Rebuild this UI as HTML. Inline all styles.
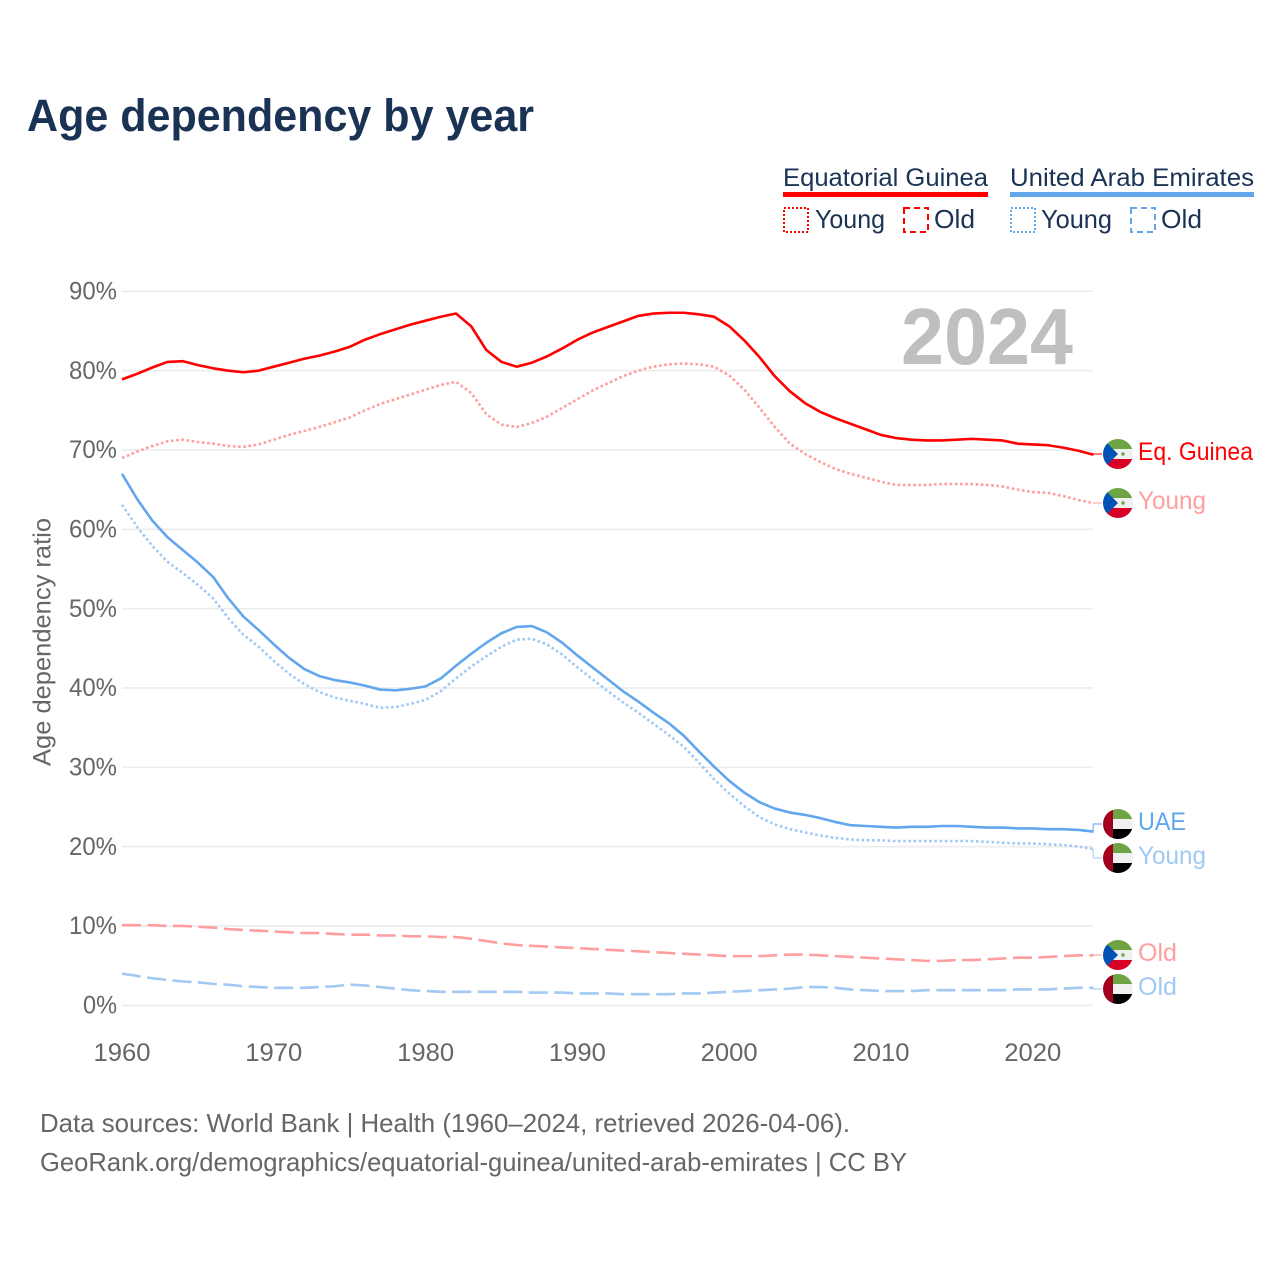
<!DOCTYPE html>
<html lang="en">
<head>
<meta charset="utf-8">
<title>Age dependency by year</title>
<style>
html,body{margin:0;padding:0;background:#fff;width:1280px;height:1280px;overflow:hidden}
svg{display:block}
text{font-family:"Liberation Sans",Arial,sans-serif}
</style>
</head>
<body>
<svg id="chart" xmlns="http://www.w3.org/2000/svg" width="1280" height="1280" viewBox="0 0 1280 1280">
  <defs>
    <clipPath id="flag-clip"><circle cx="0" cy="0" r="15"/></clipPath>
    <g id="flag-gq">
      <g clip-path="url(#flag-clip)">
        <rect x="-15" y="-15" width="30" height="30" fill="#f0f0f0"/>
        <rect x="-15" y="-15" width="30" height="10" fill="#6da544"/>
        <rect x="-15" y="5" width="30" height="10" fill="#d80027"/>
        <polygon points="-15,-15 -15,15 0,0" fill="#0052b4"/>
        <circle cx="5" cy="0" r="1.7" fill="#6da544"/>
      </g>
    </g>
    <g id="flag-ae">
      <g clip-path="url(#flag-clip)">
        <rect x="-15" y="-15" width="30" height="30" fill="#f0f0f0"/>
        <rect x="-15" y="-15" width="30" height="10" fill="#6da544"/>
        <rect x="-15" y="5" width="30" height="10" fill="#000"/>
        <rect x="-15" y="-15" width="10" height="30" fill="#a2001d"/>
      </g>
    </g>
  </defs>

  <text x="27" y="131" font-size="45" font-weight="700" fill="#1a3354" textLength="507" lengthAdjust="spacingAndGlyphs">Age dependency by year</text>

  <g>
    <g>
      <text x="783" y="186" font-size="25" fill="#1a3354" textLength="205" lengthAdjust="spacingAndGlyphs">Equatorial Guinea</text>
      <rect x="783" y="192" width="205" height="5" fill="#ff0000"/>
      <rect x="784" y="208" width="24" height="24" fill="none" stroke="#ff0000" stroke-width="2" stroke-dasharray="2 2"/>
      <text x="815" y="228" font-size="26" fill="#1a3354" textLength="70" lengthAdjust="spacingAndGlyphs">Young</text>
      <rect x="904" y="208" width="24" height="24" fill="none" stroke="#ff0000" stroke-width="2" stroke-dasharray="6 4"/>
      <text x="934" y="228" font-size="26" fill="#1a3354" textLength="41" lengthAdjust="spacingAndGlyphs">Old</text>
    </g>
    <g>
      <text x="1010" y="186" font-size="25" fill="#1a3354" textLength="244" lengthAdjust="spacingAndGlyphs">United Arab Emirates</text>
      <rect x="1010" y="192" width="244" height="5" fill="#62a6ed"/>
      <rect x="1011" y="208" width="24" height="24" fill="none" stroke="#62a6ed" stroke-width="2" stroke-dasharray="2 2"/>
      <text x="1041" y="228" font-size="26" fill="#1a3354" textLength="71" lengthAdjust="spacingAndGlyphs">Young</text>
      <rect x="1131" y="208" width="24" height="24" fill="none" stroke="#62a6ed" stroke-width="2" stroke-dasharray="6 4"/>
      <text x="1161" y="228" font-size="26" fill="#1a3354" textLength="41" lengthAdjust="spacingAndGlyphs">Old</text>
    </g>
  </g>

  <g id="grid"></g>
  <g id="yticks"></g>
  <g id="xticks"></g>

  <text transform="translate(50.5 642) rotate(-90)" text-anchor="middle" font-size="25" fill="#666666" textLength="248" lengthAdjust="spacingAndGlyphs">Age dependency ratio</text>

  <text x="901" y="364" font-size="80" font-weight="700" fill="#bfbfbf" textLength="172" lengthAdjust="spacingAndGlyphs">2024</text>

  <g id="series"></g>
  <g id="labels"></g>

  <text x="40" y="1132" font-size="26" fill="#666666" textLength="810" lengthAdjust="spacingAndGlyphs">Data sources: World Bank | Health (1960–2024, retrieved 2026-04-06).</text>
  <text x="40" y="1171" font-size="26" fill="#666666" textLength="867" lengthAdjust="spacingAndGlyphs">GeoRank.org/demographics/equatorial-guinea/united-arab-emirates | CC BY</text>
</svg>
<script>
var yearStart = 1960;
var yTickValues = [0, 10, 20, 30, 40, 50, 60, 70, 80, 90];
var yTickLabels = ['0%', '10%', '20%', '30%', '40%', '50%', '60%', '70%', '80%', '90%'];
var xTickValues = [1960, 1970, 1980, 1990, 2000, 2010, 2020];
var xTickLabels = ['1960', '1970', '1980', '1990', '2000', '2010', '2020'];

var egTotal = [78.9,79.6,80.4,81.1,81.2,80.7,80.3,80.0,79.8,80.0,80.5,81.0,81.5,81.9,82.4,83.0,83.9,84.6,85.2,85.8,86.3,86.8,87.2,85.6,82.6,81.1,80.5,81.0,81.8,82.8,83.9,84.8,85.5,86.2,86.9,87.2,87.3,87.3,87.1,86.8,85.6,83.8,81.7,79.3,77.4,75.9,74.8,74.0,73.3,72.6,71.9,71.5,71.3,71.2,71.2,71.3,71.4,71.3,71.2,70.8,70.7,70.6,70.3,69.9,69.4];
var egYoung = [69.0,69.8,70.5,71.1,71.3,71.0,70.8,70.5,70.4,70.7,71.3,71.9,72.4,72.9,73.5,74.1,75.0,75.8,76.4,77.0,77.6,78.2,78.6,77.2,74.5,73.2,72.9,73.4,74.2,75.3,76.4,77.5,78.4,79.3,80.0,80.5,80.8,80.9,80.8,80.5,79.4,77.6,75.3,72.9,70.8,69.5,68.5,67.6,67.0,66.5,66.0,65.6,65.6,65.6,65.7,65.7,65.7,65.6,65.4,65.0,64.7,64.6,64.2,63.7,63.3];
var egOld = [10.1,10.1,10.1,10.0,10.0,9.9,9.8,9.6,9.5,9.4,9.3,9.2,9.1,9.1,9.0,8.9,8.9,8.8,8.8,8.7,8.7,8.6,8.6,8.4,8.1,7.8,7.6,7.5,7.4,7.3,7.2,7.1,7.0,6.9,6.8,6.7,6.6,6.5,6.4,6.3,6.2,6.2,6.2,6.3,6.4,6.4,6.3,6.2,6.1,6.0,5.9,5.8,5.7,5.6,5.6,5.7,5.7,5.8,5.9,6.0,6.0,6.1,6.2,6.3,6.3];
var uaeTotal = [67.0,63.8,61.1,59.0,57.4,55.8,54.0,51.3,49.0,47.3,45.5,43.8,42.4,41.5,41.0,40.7,40.3,39.8,39.7,39.9,40.2,41.2,42.8,44.3,45.7,46.9,47.7,47.8,47.0,45.7,44.1,42.6,41.1,39.6,38.3,36.9,35.6,34.0,32.0,30.1,28.3,26.8,25.6,24.8,24.3,24.0,23.6,23.1,22.7,22.6,22.5,22.4,22.5,22.5,22.6,22.6,22.5,22.4,22.4,22.3,22.3,22.2,22.2,22.1,21.9];
var uaeYoung = [63.1,60.3,57.9,55.9,54.5,53.0,51.3,48.8,46.7,45.2,43.4,41.8,40.5,39.5,38.8,38.4,38.0,37.5,37.6,38.0,38.5,39.6,41.2,42.7,44.0,45.2,46.1,46.2,45.5,44.2,42.6,41.1,39.6,38.2,36.9,35.5,34.1,32.6,30.6,28.5,26.7,25.1,23.7,22.8,22.2,21.8,21.4,21.1,20.9,20.8,20.8,20.7,20.7,20.7,20.7,20.7,20.7,20.6,20.5,20.4,20.4,20.3,20.2,20.0,19.7];
var uaeOld = [4.0,3.7,3.4,3.2,3.0,2.9,2.7,2.6,2.4,2.3,2.2,2.2,2.2,2.3,2.4,2.6,2.5,2.3,2.1,1.9,1.8,1.7,1.7,1.7,1.7,1.7,1.7,1.6,1.6,1.6,1.5,1.5,1.5,1.4,1.4,1.4,1.4,1.5,1.5,1.6,1.7,1.8,1.9,2.0,2.1,2.3,2.3,2.2,2.0,1.9,1.8,1.8,1.8,1.9,1.9,1.9,1.9,1.9,1.9,2.0,2.0,2.0,2.1,2.2,2.2];

var SVG_NS = 'http://www.w3.org/2000/svg';
function xScale(year) { return 122 + (year - yearStart) * 15.18; }
function yScale(v) { return 1005.3 - v * 7.933; }
function make(parent, tag, attrs) {
  var el = document.createElementNS(SVG_NS, tag);
  for (var k in attrs) { el.setAttribute(k, attrs[k]); }
  parent.appendChild(el);
  return el;
}

var gridG = document.getElementById('grid');
var yG = document.getElementById('yticks');
yTickValues.forEach(function (v, i) {
  var line = make(gridG, 'line', {x1: 122, x2: 1093, y1: yScale(v), y2: yScale(v), stroke: '#ececec', 'stroke-width': 1.6});
  
  
  var t = make(yG, 'text', {x: 117, y: yScale(v) + 8.2, 'text-anchor': 'end', 'font-size': 25, fill: '#666666', textLength: yTickLabels[i].length === 2 ? 34 : 48, lengthAdjust: 'spacingAndGlyphs'});
  t.textContent = yTickLabels[i];
  
  
});

var xG = document.getElementById('xticks');
xTickValues.forEach(function (v, i) {
  var t = make(xG, 'text', {x: xScale(v), y: 1061, 'text-anchor': 'middle', 'font-size': 25, fill: '#666666', textLength: 57, lengthAdjust: 'spacingAndGlyphs'});
  t.textContent = xTickLabels[i];
  
  
});

function linePath(values) {
  return values.map(function (v, i) {
    return (i ? 'L' : 'M') + xScale(yearStart + i).toFixed(2) + ' ' + yScale(v).toFixed(2);
  }).join(' ');
}

var seriesG = document.getElementById('series');
function drawLine(values, color, dash, name) {
  var attrs = {d: linePath(values), fill: 'none', stroke: color, 'stroke-width': 2.6, 'stroke-linejoin': 'round'};
  if (dash) { attrs['stroke-dasharray'] = dash; }
  var p = make(seriesG, 'path', attrs);
  
  
}
drawLine(egOld, '#ff9e9e', '19 6.5', 'line-eg-old');
drawLine(uaeOld, '#a1c9f4', '19 6.5', 'line-uae-old');
drawLine(egYoung, '#ff9e9e', '2.6 2.6', 'line-eg-young');
drawLine(uaeYoung, '#a1c9f4', '2.6 2.6', 'line-uae-young');
drawLine(egTotal, '#ff0000', null, 'line-eg-total');
drawLine(uaeTotal, '#62a6ed', null, 'line-uae-total');

var labelsG = document.getElementById('labels');
function drawEndLabel(values, flagY, text, width, color, flag, name) {
  var endY = yScale(values[values.length - 1]);
  var c = make(labelsG, 'path', {d: 'M1093 ' + endY.toFixed(1) + ' L1093.5 ' + flagY + ' L1102 ' + flagY, fill: 'none', stroke: color, 'stroke-width': 1.5, opacity: 0.7});
  
  
  var u = make(labelsG, 'use', {href: '#' + flag, transform: 'translate(1118 ' + flagY + ')'});
  
  
  var t = make(labelsG, 'text', {x: 1138, y: flagY + 6, 'font-size': 25, fill: color, textLength: width, lengthAdjust: 'spacingAndGlyphs'});
  t.textContent = text;
  
  
}
drawEndLabel(egTotal, 454, 'Eq. Guinea', 115, '#ff0000', 'flag-gq', 'end-eg-total');
drawEndLabel(egYoung, 503, 'Young', 68, '#ff9e9e', 'flag-gq', 'end-eg-young');
drawEndLabel(uaeTotal, 824, 'UAE', 48, '#62a6ed', 'flag-ae', 'end-uae-total');
drawEndLabel(uaeYoung, 858, 'Young', 68, '#a1c9f4', 'flag-ae', 'end-uae-young');
drawEndLabel(egOld, 955, 'Old', 39, '#ff9e9e', 'flag-gq', 'end-eg-old');
drawEndLabel(uaeOld, 989, 'Old', 39, '#a1c9f4', 'flag-ae', 'end-uae-old');
</script>
</body>
</html>
